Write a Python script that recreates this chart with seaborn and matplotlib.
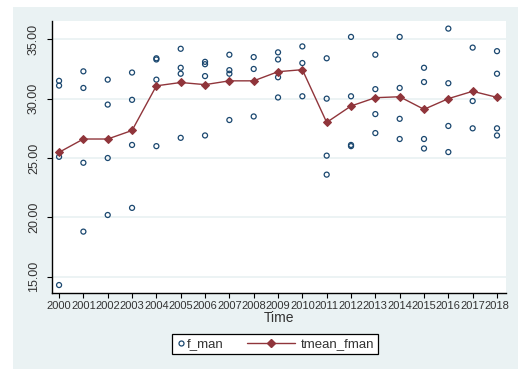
import numpy as np
import pandas as pd
import matplotlib
matplotlib.use("Agg")
import matplotlib.pyplot as plt
import seaborn as sns
from matplotlib.lines import Line2D
from matplotlib.legend_handler import HandlerLine2D
from matplotlib.patches import Rectangle

# individual observations of f_man by year
obs_year = [2000, 2000, 2000, 2000,
            2001, 2001, 2001, 2001,
            2002, 2002, 2002, 2002,
            2003, 2003, 2003, 2003,
            2004, 2004, 2004, 2004,
            2005, 2005, 2005, 2005,
            2006, 2006, 2006, 2006,
            2007, 2007, 2007, 2007,
            2008, 2008, 2008,
            2009, 2009, 2009, 2009,
            2010, 2010, 2010,
            2011, 2011, 2011, 2011,
            2012, 2012, 2012, 2012,
            2013, 2013, 2013, 2013,
            2014, 2014, 2014, 2014,
            2015, 2015, 2015, 2015,
            2016, 2016, 2016, 2016,
            2017, 2017, 2017,
            2018, 2018, 2018, 2018]
f_man = [31.5, 31.1, 25.1, 14.3,
         32.3, 30.9, 24.6, 18.8,
         31.6, 29.5, 25.0, 20.2,
         32.2, 29.9, 26.1, 20.8,
         33.4, 33.3, 31.6, 26.0,
         34.2, 32.6, 32.1, 26.7,
         33.1, 32.9, 31.9, 26.9,
         33.7, 32.4, 32.1, 28.2,
         33.5, 32.5, 28.5,
         33.9, 33.3, 31.8, 30.1,
         34.4, 33.0, 30.2,
         33.4, 30.0, 25.2, 23.6,
         35.2, 30.2, 26.1, 26.0,
         33.7, 30.8, 28.7, 27.1,
         35.2, 30.9, 28.3, 26.6,
         32.6, 31.4, 26.6, 25.8,
         35.9, 31.3, 27.7, 25.5,
         34.3, 29.8, 27.5,
         34.0, 32.1, 27.5, 26.9]

# yearly mean series
years = list(range(2000, 2019))
tmean_fman = [25.48, 26.60, 26.60, 27.32, 31.08, 31.36, 31.18, 31.50, 31.50,
              32.27, 32.44, 28.00, 29.38, 30.08, 30.16, 29.10, 30.00, 30.62, 30.11]

y_ticks = [15, 20, 25, 30, 35]

NAVY = "#1a476f"
MAROON = "#90353b"
BG = "#eaf2f3"
TXT = "#333333"

obs = pd.DataFrame({"Time": obs_year, "f_man": f_man})
means = pd.DataFrame({"Time": years, "tmean_fman": tmean_fman})

sns.set_theme(style="white")
plt.rcParams["font.family"] = ["Liberation Sans", "DejaVu Sans"]

fig = plt.figure(figsize=(5.28, 3.71), dpi=100)
fig.patch.set_facecolor("white")
W, H = 528, 371
fig.patches.append(Rectangle((13 / W, 2 / H), 505 / W, 362 / H,
                             transform=fig.transFigure, facecolor=BG,
                             edgecolor="none", zorder=-10))

ax = fig.add_axes([52 / W, 1 - 293 / H, 454 / W, 272 / H])
ax.set_facecolor("white")

sns.scatterplot(data=obs, x="Time", y="f_man", ax=ax, marker="o",
                color="none", edgecolor=NAVY, linewidth=0.9, s=13,
                zorder=3, legend=False)
sns.lineplot(data=means, x="Time", y="tmean_fman", ax=ax, color=MAROON,
             linewidth=1.0, marker="D", markersize=4.2,
             markeredgecolor=MAROON, markerfacecolor=MAROON,
             zorder=4, legend=False)

ax.set_xlim(1999.71, 2018.37)
ax.set_ylim(13.63, 36.54)
ax.set_xticks(years)
ax.set_xticklabels([str(y) for y in years], fontsize=8, color=TXT)
ax.set_yticks(y_ticks)
ax.set_yticklabels([f"{v:.2f}" for v in y_ticks], fontsize=9, color=TXT,
                   rotation=90, va="center")

ax.grid(axis="y", color=BG, linewidth=1.3)
ax.grid(axis="x", visible=False)
for side in ["top", "right"]:
    ax.spines[side].set_visible(False)
for side in ["left", "bottom"]:
    ax.spines[side].set_color("black")
    ax.spines[side].set_linewidth(1.0)
ax.tick_params(axis="both", which="major", direction="out", length=3.6,
               width=0.8, color="black", left=True, bottom=True)
ax.tick_params(axis="x", pad=2)
ax.tick_params(axis="y", pad=5)

ax.set_xlabel("Time", fontsize=10, color=TXT, labelpad=0)
ax.set_ylabel("")


class LongLineHandler(HandlerLine2D):
    """Draws the line sample reaching further left than the handle box."""

    def __init__(self, left, right, mark, **kw):
        super().__init__(numpoints=1, **kw)
        self._l, self._r, self._m = left, right, mark

    def get_xdata(self, legend, xdescent, ydescent, width, height, fontsize):
        xdata = np.array([self._l, self._r]) - xdescent
        xmark = np.array([self._m]) - xdescent
        return xdata, xmark


h_obs = Line2D([], [], linestyle="none", marker="o", markersize=3.6,
               markerfacecolor="none", markeredgecolor=NAVY,
               markeredgewidth=0.9)
h_mean = Line2D([], [], color=MAROON, linewidth=1.0, marker="D",
                markersize=4.2, markerfacecolor=MAROON,
                markeredgecolor=MAROON)

leg = fig.legend([h_obs, h_mean], ["f_man", "tmean_fman"],
                 loc="center", bbox_to_anchor=(275 / W, 1 - 344 / H),
                 ncol=2, fontsize=9.5, handlelength=0.7, handletextpad=0.1,
                 columnspacing=5.05, borderpad=0.3, fancybox=False,
                 framealpha=1, edgecolor="black",
                 handler_map={h_mean: LongLineHandler(-31.2, 3.4, -14.6)})
leg.get_frame().set_linewidth(0.9)
for t in leg.get_texts():
    t.set_color(TXT)

fig.savefig("out.png", dpi=100)
